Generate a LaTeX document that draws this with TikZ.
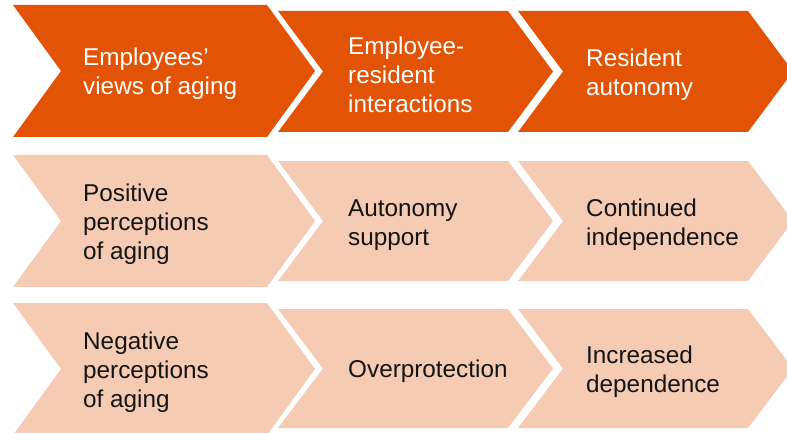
\documentclass[tikz,border=0pt]{standalone}
\usepackage{fontspec}
\setmainfont{Liberation Sans}
\usepackage{xcolor}
\usepackage{tikz}

\definecolor{darkorange}{RGB}{227,83,5}
\definecolor{lightorange}{RGB}{246,203,180}
\definecolor{inkblack}{RGB}{20,20,20}

% chevron: colour, left x, top y, bottom y, right x, tip depth
\newcommand{\chev}[6]{%
\fill [#1] (#2,-#3) -- (#5,-#3) -- ({#5+#6},{-(#3+#4)/2}) -- (#5,-#4) -- (#2,-#4) -- ({#2+#6},{-(#3+#4)/2}) -- cycle;}

\begin{document}
\begin{tikzpicture}[x=1pt,y=1pt]
\tikzstyle{every node}+=[inner sep=0pt]
\tikzstyle{label}=[anchor=west, align=left, font=\fontsize{24.3}{29}\selectfont]
\useasboundingbox (0,0) rectangle (787,-433);
% top row
\chev{darkorange}{13}{5}{137}{267}{48}
\chev{darkorange}{278}{11}{132}{508}{45}
\chev{darkorange}{518}{11}{132}{748}{45}
\draw (83,-74) node [label, text=white] (views) {Employees’\\views of aging};
\draw (348,-75) node [label, text=white] (inter) {Employee-\\resident\\interactions};
\draw (586,-75) node [label, text=white] (auto) {Resident\\autonomy};
% positive row
\chev{lightorange}{13}{155}{287}{267}{48}
\chev{lightorange}{278}{161}{281}{508}{45}
\chev{lightorange}{518}{161}{281}{748}{45}
\draw (83,-224) node [label, text=inkblack] (pos) {Positive\\perceptions\\of aging};
\draw (348,-225) node [label, text=inkblack] (support) {Autonomy\\support};
\draw (586,-225) node [label, text=inkblack] (indep) {Continued\\independence};
% negative row
\chev{lightorange}{13}{303}{435}{267}{48}
\chev{lightorange}{278}{309}{428}{508}{45}
\chev{lightorange}{518}{309}{428}{748}{45}
\draw (83,-372) node [label, text=inkblack] (neg) {Negative\\perceptions\\of aging};
\draw (348,-371) node [label, text=inkblack] (overprot) {Overprotection};
\draw (586,-372) node [label, text=inkblack] (dep) {Increased\\dependence};
\end{tikzpicture}
\end{document}
